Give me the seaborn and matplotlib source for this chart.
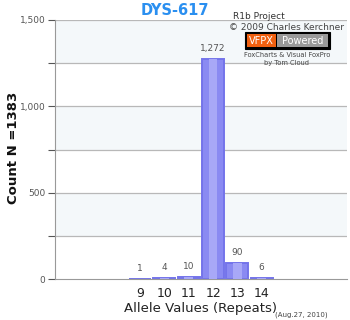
import matplotlib
matplotlib.use("Agg")
import matplotlib.pyplot as plt
import seaborn as sns
import pandas as pd
from matplotlib.patches import Rectangle

alleles = ["9", "10", "11", "12", "13", "14"]
counts = [1, 4, 10, 1272, 90, 6]
count_labels = ["1", "4", "10", "1,272", "90", "6"]
ytick_vals = [0, 500, 1000, 1500]
ytick_labels = ["0", "500", "1,000", "1,500"]

sns.set_theme(style="white")
plt.rcParams['font.family'] = ['DejaVu Sans']

df = pd.DataFrame({"allele": alleles, "count": counts})

fig = plt.figure(figsize=(3.5, 3.2), dpi=100)
ax = fig.add_axes([0.157, 0.128, 0.834, 0.8095])

# alternating bands
for lo in [250, 750, 1250]:
    ax.axhspan(lo, lo + 250, color="#f4f8fa", zorder=0, lw=0)
for g in [250, 500, 750, 1000, 1250, 1500]:
    ax.axhline(g, color="#b8b8b8", lw=0.9, zorder=1)

sns.barplot(data=df, x="allele", y="count", color="#8a8af2", width=0.9,
            edgecolor="#7474ea", linewidth=1.4, saturation=1, ax=ax, zorder=2)

bars = list(ax.containers[0])
for p in bars:
    x0, w, h = p.get_x(), p.get_width(), p.get_height()
    ax.add_patch(Rectangle((x0 + w * 0.3, 0), w * 0.4, h, color="#a8a8f7", lw=0, zorder=3))

for i, (c, lab) in enumerate(zip(counts, count_labels)):
    ax.annotate(lab, (i, c), xytext=(0, 4.5), textcoords="offset points",
                ha="center", va="bottom", fontsize=6.5, color="#555555")

ax.set_xlim(-3.5, 8.5)
ax.set_ylim(0, 1500)
ax.set_xticks(range(len(alleles)))
ax.set_xticklabels(alleles, fontsize=9, color="#222222")
ax.set_yticks(ytick_vals)
ax.set_yticklabels(ytick_labels, fontsize=6.5, color="#555555")
ax.set_yticks([250, 750, 1250], minor=True)
ax.tick_params(axis="y", which="both", left=True, length=5, width=0.8, color="#555555", pad=2)
ax.tick_params(axis="x", length=0, pad=6)

for s in ["top", "right"]:
    ax.spines[s].set_visible(False)
ax.spines["left"].set_color("#999999")
ax.spines["left"].set_linewidth(0.8)
ax.spines["bottom"].set_color("#999999")
ax.spines["bottom"].set_linewidth(0.8)

ax.set_xlabel("Allele Values (Repeats)", fontsize=9.5, color="#222222", labelpad=1)
ax.set_ylabel("")
fig.text(14/350, 1-148/320, "Count N =1383", rotation=90, ha="center", va="center",
         fontsize=9.5, fontweight="bold", color="#111111")

fig.text(0.5, 0.968, "DYS-617", ha="center", va="center", fontsize=10.5,
         fontweight="bold", color="#2a8ff0")
fig.text(0.74, 0.948, "R1b Project", ha="center", va="center", fontsize=6.5, color="#333333")
fig.text(0.983, 0.913, "© 2009 Charles Kerchner", ha="right", va="center", fontsize=6.5, color="#444444")
# VFPX logo
fig.patches.append(Rectangle((245/350, 1-49/320), 85/350, 17/320, transform=fig.transFigure,
                             facecolor="black", edgecolor="black", lw=0.8))
fig.patches.append(Rectangle((247/350, 1-47/320), 29/350, 13/320, transform=fig.transFigure,
                             facecolor="#f06010", lw=0))
fig.patches.append(Rectangle((277/350, 1-47/320), 51/350, 13/320, transform=fig.transFigure,
                             facecolor="#999999", lw=0))
fig.text(261.5/350, 1-40.5/320, "VFPX", ha="center", va="center", fontsize=7, color="white")
fig.text(302.5/350, 1-40.5/320, "Powered", ha="center", va="center", fontsize=7, color="white")
fig.text(287/350, 1-55/320, "FoxCharts & Visual FoxPro", ha="center", va="center", fontsize=4.8, color="#444444")
fig.text(287/350, 1-63/320, "by Tom Cloud", ha="center", va="center", fontsize=4.8, color="#444444")
fig.text(0.86, 0.016, "(Aug.27, 2010)", ha="center", va="center", fontsize=5, color="#444444")

fig.savefig("out.png", dpi=100)
